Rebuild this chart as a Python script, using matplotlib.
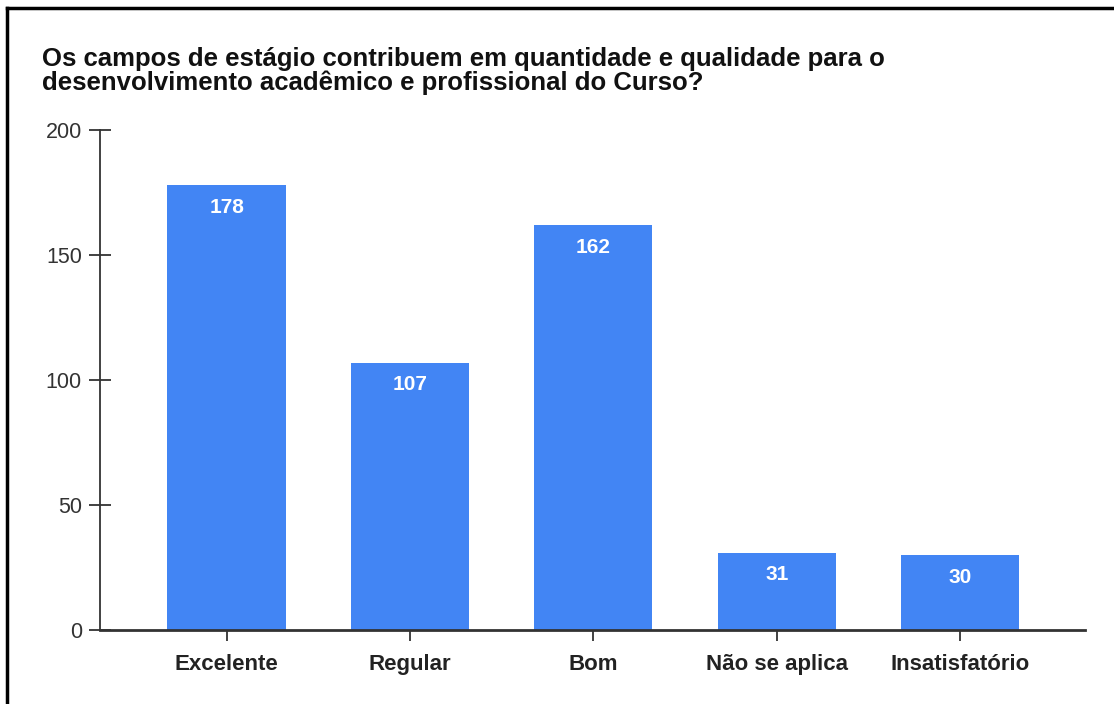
import matplotlib.pyplot as plt
from matplotlib.lines import Line2D

plt.rcParams['font.family'] = ['Liberation Sans', 'DejaVu Sans']

categorias = ["Excelente", "Regular", "Bom", "Não se aplica", "Insatisfatório"]
respostas = [178, 107, 162, 31, 30]
yticks = [0, 50, 100, 150, 200]

titulo = ("Os campos de estágio contribuem em quantidade e qualidade para o\n"
          "desenvolvimento acadêmico e profissional do Curso?")

fig = plt.figure(figsize=(11.14, 7.04), dpi=100)
ax = fig.add_axes([0.0898, 0.1051, 0.884, 0.7102])

x = range(len(categorias))
barras = ax.bar(x, respostas, width=0.645, color='#4285F4', zorder=2)

for b, v in zip(barras, respostas):
    ax.annotate(str(v), (b.get_x() + b.get_width() / 2, v),
                xytext=(0, -9), textcoords='offset points',
                ha='center', va='top', color='white',
                fontsize=15, fontweight='bold')

ax.set_xlim(-0.69, 4.68)
ax.set_ylim(0, 200)
ax.set_yticks(yticks)
ax.set_xticks(list(x))
ax.set_xticklabels(categorias, fontsize=16, fontweight='bold', color='#222222')
ax.tick_params(axis='y', direction='inout', length=16, width=1.3,
               color='#333333', labelsize=15.5, labelcolor='#333333', pad=5)
ax.tick_params(axis='x', direction='inout', length=16, width=1.3,
               color='#333333', pad=9)

for s in ['top', 'right']:
    ax.spines[s].set_visible(False)
ax.spines['left'].set_color('#333333')
ax.spines['left'].set_linewidth(1.3)
ax.spines['bottom'].set_color('#333333')
ax.spines['bottom'].set_linewidth(2)

fig.text(0.0377, 0.933, titulo, fontsize=18.5, fontweight='bold',
         ha='left', va='top', color='#111111', linespacing=0.95)

# moldura superior e esquerda
fig.add_artist(Line2D([0.006, 1.0], [0.989, 0.989], color='black', lw=2.5))
fig.add_artist(Line2D([0.0063, 0.0063], [0.0, 0.989], color='black', lw=2.5))

fig.savefig('out.png', dpi=100)
